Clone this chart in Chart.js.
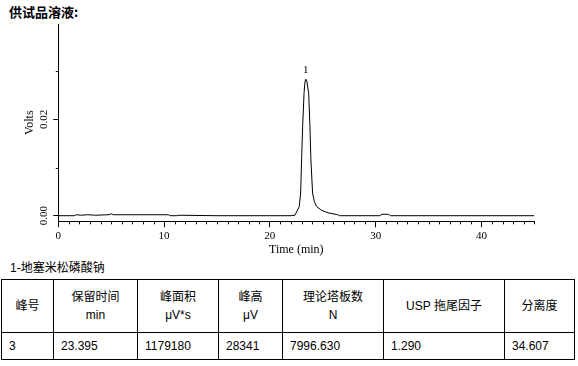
<!DOCTYPE html>
<html>
<head>
<meta charset="utf-8">
<script src="https://cdn.jsdelivr.net/npm/chart.js@4.4.0/dist/chart.umd.min.js"></script>
<style>
  body { margin: 0; background: #fff; width: 578px; height: 366px; position: relative; overflow: hidden; }
  .title { position: absolute; left: 9px; top: 4px; font: bold 13px/16px "Noto Sans CJK SC", sans-serif; color: #000; }
  .chart-box { position: absolute; left: 0; top: 20px; width: 578px; height: 240px; }
  .peak-name { position: absolute; left: 10px; top: 260px; font: 12px/16px "Liberation Sans", "Noto Sans CJK SC", sans-serif; color: #000; }
  table { position: absolute; left: 1px; top: 279px; border-collapse: collapse; table-layout: fixed; width: 573px;
          font: 12px "Liberation Sans", "Noto Sans CJK SC", sans-serif; color: #000; }
  td { border: 1px solid #000; padding: 0 0 0 7px; white-space: nowrap; }
  tr.head { height: 53px; }
  tr.head td { text-align: center; line-height: 18px; padding: 0; }
  tr.row { height: 27px; }
</style>
</head>
<body>
<div class="title">供试品溶液:</div>
<div class="chart-box"><canvas id="chromChart"></canvas></div>
<div class="peak-name" id="peakName"></div>
<table id="resultTable"></table>

<script>
// chromatogram trace (min, V)
const times = [0, 1.5, 1.7, 2.2, 2.8, 3.5, 4.8, 5.0, 5.2, 8.0, 10.4, 10.6, 11.2, 11.4, 15, 20, 22.0,
  22.37, 22.53, 22.78, 22.91, 23.00, 23.10, 23.23, 23.33, 23.40, 23.50, 23.67, 23.79, 23.88, 24.04,
  24.20, 24.42, 24.9, 25.5, 26.4, 26.6, 30.4, 30.6, 31.2, 31.4, 45];
const volts = [0, 0, 0.0002, 0.0001, 0.0002, 0.0001, 0.0002, 0.0004, 0.0002, 0.0002, 0.0002, 0, 0, 0.0001, 0, 0, 0,
  0.0001, 0.0008, 0.0019, 0.0047, 0.0116, 0.0185, 0.0254, 0.0280, 0.02834, 0.0279, 0.0254, 0.0185, 0.0116, 0.0047,
  0.0030, 0.0019, 0.0011, 0.0006, 0.0002, 0, 0, 0.0003, 0.0003, 0, 0];

const xMajorTicks = [0, 10, 20, 30, 40];
const xMinorTicks = [1, 2, 3, 4, 5, 6, 7, 8, 9, 11, 12, 13, 14, 15, 16, 17, 18, 19, 21, 22, 23, 24, 25, 26, 27, 28, 29,
  31, 32, 33, 34, 35, 36, 37, 38, 39, 41, 42, 43, 44, 45];
const yMajorTicks = [0, 0.02];
const yMinorTicks = [0.01, 0.03];
const peakLabel = '1';

// result table
const peakName = '1-地塞米松磷酸钠';
const headers = ['峰号', '保留时间', '峰面积', '峰高', '理论塔板数', 'USP 拖尾因子', '分离度'];
const units = ['', 'min', 'μV*s', 'μV', 'N', '', ''];
const resultRow = ['3', '23.395', '1179180', '28341', '7996.630', '1.290', '34.607'];
const colWidths = [52, 84, 81, 64, 101, 121, 70];

document.getElementById('peakName').textContent = peakName;
const table = document.getElementById('resultTable');
const colgroup = document.createElement('colgroup');
colWidths.forEach(w => {
  const col = document.createElement('col');
  col.style.width = w + 'px';
  colgroup.appendChild(col);
});
table.appendChild(colgroup);
const headRow = table.insertRow();
headRow.className = 'head';
headers.forEach((h, i) => {
  const cell = headRow.insertCell();
  cell.textContent = h;
  if (units[i]) {
    cell.appendChild(document.createElement('br'));
    cell.appendChild(document.createTextNode(units[i]));
  }
});
const dataRow = table.insertRow();
dataRow.className = 'row';
resultRow.forEach(v => { dataRow.insertCell().textContent = v; });

const serif = '"Liberation Serif", "DejaVu Serif", serif';

// short ticks + peak number
const extrasPlugin = {
  id: 'extras',
  afterDraw(chart) {
    const ctx = chart.ctx;
    const x = chart.scales.x, y = chart.scales.y;
    const area = chart.chartArea;
    ctx.save();
    ctx.strokeStyle = '#000';
    ctx.lineWidth = 1;
    ctx.beginPath();
    xMinorTicks.forEach(t => {
      const px = Math.round(x.getPixelForValue(t)) + 0.5;
      ctx.moveTo(px, area.bottom);
      ctx.lineTo(px, area.bottom + 3);
    });
    yMinorTicks.forEach(t => {
      const py = Math.round(y.getPixelForValue(t)) + 0.5;
      ctx.moveTo(area.left, py);
      ctx.lineTo(area.left - 2.5, py);
    });
    ctx.stroke();

    let top = 0;
    volts.forEach((v, i) => { if (v > volts[top]) top = i; });
    ctx.fillStyle = '#000';
    ctx.font = '11px ' + serif;
    ctx.textAlign = 'center';
    ctx.textBaseline = 'middle';
    ctx.fillText(peakLabel, x.getPixelForValue(times[top]), y.getPixelForValue(volts[top]) - 9.5);
    ctx.restore();
  }
};

new Chart(document.getElementById('chromChart'), {
  type: 'scatter',
  data: {
    datasets: [{
      data: times.map((t, i) => ({ x: t, y: volts[i] })),
      showLine: true,
      borderColor: '#000',
      borderWidth: 1,
      pointRadius: 0,
      tension: 0
    }]
  },
  options: {
    responsive: true,
    maintainAspectRatio: false,
    animation: false,
    layout: { padding: { top: 4, right: 43.7, left: 0, bottom: 0 } },
    plugins: { legend: { display: false }, tooltip: { enabled: false } },
    scales: {
      x: {
        type: 'linear',
        min: 0,
        max: 45,
        afterBuildTicks: s => { s.ticks = xMajorTicks.map(v => ({ value: v })); },
        afterFit: s => { s.height = 38.7; s.paddingLeft = 0; s.paddingRight = 0; },
        border: { display: true, color: '#000', width: 1 },
        grid: { drawOnChartArea: false, tickLength: 6, color: '#000' },
        ticks: { color: '#000', padding: 2, maxRotation: 0, font: { family: serif, size: 11 },
                 callback: v => String(v) },
        title: { display: true, text: 'Time (min)', color: '#000', font: { family: serif, size: 12 },
                 padding: { top: 0, bottom: 3 } }
      },
      y: {
        type: 'linear',
        min: -0.00116,
        max: 0.0398,
        afterBuildTicks: s => { s.ticks = yMajorTicks.map(v => ({ value: v })); },
        afterFit: s => { s.width = 58.3; s.paddingTop = 0; s.paddingBottom = 0; },
        border: { display: true, color: '#000', width: 1 },
        grid: { drawOnChartArea: false, tickLength: 5, color: '#000' },
        ticks: { color: '#000', padding: 0, minRotation: 90, maxRotation: 90, crossAlign: 'center',
                 font: { family: serif, size: 11 }, callback: v => v.toFixed(2) },
        title: { display: true, text: 'Volts', color: '#000', font: { family: serif, size: 12 },
                 padding: { top: 22.5, bottom: 0 } }
      }
    }
  },
  plugins: [extrasPlugin]
});
</script>
</body>
</html>
